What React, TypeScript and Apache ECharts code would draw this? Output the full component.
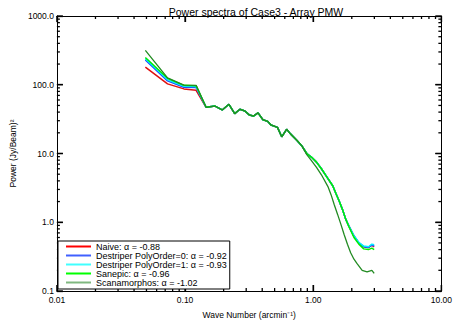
import React, { useEffect, useRef } from "react";
import * as echarts from "echarts";

const waveNumber = [
  0.049, 0.073, 0.098, 0.122, 0.146, 0.171, 0.195, 0.22, 0.244, 0.268,
  0.293, 0.317, 0.342, 0.371, 0.405, 0.442, 0.468, 0.526, 0.568, 0.62,
  0.665, 0.747, 0.816, 0.891, 0.972, 1.061, 1.159, 1.265, 1.42, 1.507,
  1.6, 1.69, 1.797, 1.9, 2.08, 2.27, 2.48, 2.7, 2.87, 2.99,
];
const naive = [
  181, 103, 87, 83, 47, 49, 43, 52, 38, 44,
  41.6, 36.4, 35, 39, 31, 29.3, 26, 24, 17.5, 22.5,
  19.3, 15.5, 12.9, 10, 8.8, 7.5, 6.0, 4.7, 3.4, 2.6,
  2.0, 1.54, 1.1, 0.88, 0.63, 0.5, 0.44, 0.43, 0.46, 0.44,
];
const destriper0 = [
  230, 114, 92, 91, 47, 49, 43, 52, 38, 44,
  41.6, 36.4, 35, 39, 31, 29.3, 26, 24, 17.5, 22.5,
  19.3, 15.5, 12.9, 10, 8.8, 7.5, 6.0, 4.7, 3.4, 2.6,
  2.0, 1.54, 1.1, 0.88, 0.63, 0.5, 0.44, 0.43, 0.47, 0.45,
];
const destriper1 = [
  240, 118, 95, 94, 47, 49, 43, 52, 38, 44,
  41.6, 36.4, 35, 39, 31, 29.3, 26, 24, 17.5, 22.5,
  19.3, 15.5, 12.9, 10, 8.8, 7.5, 6.0, 4.7, 3.4, 2.6,
  2.0, 1.54, 1.1, 0.88, 0.64, 0.51, 0.45, 0.44, 0.48, 0.47,
];
const sanepic = [
  249, 124, 98, 97, 47, 49, 43, 52, 38, 44,
  41.6, 36.4, 35, 39, 31, 29.3, 26, 24, 17.5, 22.5,
  19.3, 15.5, 12.9, 10, 8.8, 7.5, 6.0, 4.7, 3.4, 2.6,
  2.0, 1.54, 1.1, 0.86, 0.6, 0.48, 0.41, 0.4, 0.42, 0.4,
];
const scanWave = [
  0.049, 0.073, 0.098, 0.122, 0.146, 0.171, 0.195, 0.22, 0.244, 0.268,
  0.293, 0.317, 0.342, 0.371, 0.405, 0.442, 0.468, 0.526, 0.568, 0.62,
  0.665, 0.747, 0.816, 0.891, 0.972, 1.061, 1.159, 1.303, 1.38, 1.46,
  1.55, 1.645, 1.74, 1.85, 1.96, 2.08, 2.2, 2.41, 2.63, 2.87, 2.99,
];
const scanamorphos = [
  316, 126, 99, 98, 47, 49, 43, 52, 38, 44,
  41.6, 36.4, 35, 39, 31, 29.3, 26, 24, 17.5, 22.5,
  19.3, 15.5, 12.9, 9.6, 7.8, 6.3, 4.9, 3.3, 2.5, 1.8,
  1.3, 0.93, 0.67, 0.48, 0.36, 0.29, 0.25, 0.2, 0.19, 0.2, 0.18,
];

const seriesNames = [
  "Naive: \u03b1 = -0.88",
  "Destriper PolyOrder=0: \u03b1 = -0.92",
  "Destriper PolyOrder=1: \u03b1 = -0.93",
  "Sanepic: \u03b1 = -0.96",
  "Scanamorphos: \u03b1 = -1.02",
];
const seriesColors = ["#e01010", "#2040ff", "#00f0ff", "#00ee00", "#228b22"];
const legendColors = ["#ff0000", "#4060ff", "#40ffff", "#00ff00", "#80b880"];

const xTickLabels: Record<string, string> = { "0.01": "0.01", "0.1": "0.10", "1": "1.00", "10": "10.00" };
const yTickLabels: Record<string, string> = { "0.1": "0.1", "1": "1.0", "10": "10.0", "100": "100.0", "1000": "1000.0" };
const xMajor = [0.01, 0.1, 1, 10];
const yMajor = [0.1, 1, 10, 100, 1000];
const minorMultipliers = [2, 3, 4, 5, 6, 7, 8, 9];
const xDecades = [0.01, 0.1, 1];
const yDecades = [0.1, 1, 10, 100];
const X_MIN = 0.01;
const X_MAX = 10;
const Y_MIN = 0.1;
const Y_MAX = 1000;

const FONT = "Liberation Sans";

function pairs(xs: number[], ys: number[]) {
  return xs.map((x, i) => [x, ys[i]]);
}

function xTickSeries(values: number[], len: number) {
  return {
    type: "custom",
    clip: false,
    z: 10,
    data: values.map((v) => [v, 1]),
    renderItem: (_p: any, api: any) => {
      const v = api.value(0);
      const b = api.coord([v, Y_MIN]);
      const t = api.coord([v, Y_MAX]);
      return {
        type: "group",
        children: [
          { type: "line", shape: { x1: b[0], y1: b[1], x2: b[0], y2: b[1] - len }, style: { stroke: "#000", lineWidth: 1.3 } },
          { type: "line", shape: { x1: t[0], y1: t[1], x2: t[0], y2: t[1] + len }, style: { stroke: "#000", lineWidth: 1.3 } },
        ],
      };
    },
  };
}

function yTickSeries(values: number[], len: number) {
  return {
    type: "custom",
    clip: false,
    z: 10,
    data: values.map((v) => [1, v]),
    renderItem: (_p: any, api: any) => {
      const v = api.value(1);
      const l = api.coord([X_MIN, v]);
      const r = api.coord([X_MAX, v]);
      return {
        type: "group",
        children: [
          { type: "line", shape: { x1: l[0], y1: l[1], x2: l[0] + len, y2: l[1] }, style: { stroke: "#000", lineWidth: 1.3 } },
          { type: "line", shape: { x1: r[0], y1: r[1], x2: r[0] - len, y2: r[1] }, style: { stroke: "#000", lineWidth: 1.3 } },
        ],
      };
    },
  };
}

export default function App() {
  const ref = useRef<HTMLDivElement>(null);
  useEffect(() => {
    const chart = echarts.init(ref.current!, null, { renderer: "svg" });
    const ys = [naive, destriper0, destriper1, sanepic];
    const series: any[] = ys.map((d, i) => ({
      name: seriesNames[i],
      type: "line",
      data: pairs(waveNumber, d),
      showSymbol: false,
      symbol: "none",
      color: seriesColors[i],
      lineStyle: { width: 1.5, color: seriesColors[i] },
      z: 2 + i,
    }));
    series.push({
      name: seriesNames[4],
      type: "line",
      data: pairs(scanWave, scanamorphos),
      showSymbol: false,
      symbol: "none",
      color: seriesColors[4],
      lineStyle: { width: 1.3, color: seriesColors[4] },
      z: 7,
    });
    const xMinor: number[] = [];
    xDecades.forEach((d) => minorMultipliers.forEach((m) => xMinor.push(+(m * d).toPrecision(3))));
    const yMinor: number[] = [];
    yDecades.forEach((d) => minorMultipliers.forEach((m) => yMinor.push(+(m * d).toPrecision(3))));
    series.push(xTickSeries(xMajor, 6), xTickSeries(xMinor, 3), yTickSeries(yMajor, 6), yTickSeries(yMinor, 3));

    const axisCommon = {
      type: "log" as const,
      axisLine: { show: true, lineStyle: { color: "#000", width: 1 } },
      axisTick: { show: true, inside: true, length: 6, lineStyle: { color: "#000", width: 1.3 } },
      splitLine: { show: false },
    };
    chart.setOption({
      animation: false,
      title: {
        text: "Power spectra of Case3 - Array PMW",
        left: 251,
        top: 1,
        textAlign: "center",
        textStyle: { fontFamily: FONT, fontSize: 10.5, fontWeight: "normal", color: "#000" },
      },
      grid: { left: 54, right: 7, top: 16, bottom: 28, containLabel: false },
      xAxis: [
        {
          ...axisCommon,
          min: X_MIN,
          max: X_MAX,
          position: "bottom",
          name: "Wave Number (arcmin\u207b\u00b9)",
          nameLocation: "middle",
          nameGap: 19,
          nameTextStyle: { fontFamily: FONT, fontSize: 8.5, color: "#000" },
          axisLabel: {
            fontFamily: FONT,
            fontSize: 8.5,
            color: "#000",
            margin: 4,
            formatter: (v: number) => xTickLabels[String(+v.toPrecision(3))] ?? "",
          },
        },
        { ...axisCommon, min: X_MIN, max: X_MAX, position: "top", axisLabel: { show: false } },
      ],
      yAxis: [
        {
          ...axisCommon,
          min: Y_MIN,
          max: Y_MAX,
          position: "left",
          name: "Power (Jy/Beam)\u00b2",
          nameLocation: "middle",
          nameGap: 38,
          nameRotate: 90,
          nameTextStyle: { fontFamily: FONT, fontSize: 8.5, color: "#000" },
          axisLabel: {
            fontFamily: FONT,
            fontSize: 8.5,
            color: "#000",
            margin: 3,
            formatter: (v: number) => yTickLabels[String(+v.toPrecision(3))] ?? "",
          },
        },
        { ...axisCommon, min: Y_MIN, max: Y_MAX, position: "right", axisLabel: { show: false } },
      ],
      legend: {
        show: true,
        orient: "vertical",
        left: 58,
        top: 241,
        padding: [1, 3, 2, 8],
        itemGap: 0,
        itemWidth: 25,
        itemHeight: 2,
        icon: "rect",
        backgroundColor: "#fff",
        borderColor: "#000",
        borderWidth: 1,
        borderRadius: 0,
        textStyle: { fontFamily: FONT, fontSize: 9, color: "#000", lineHeight: 9 },
        data: seriesNames.map((n, i) => ({ name: n, itemStyle: { color: legendColors[i] } })),
        z: 20,
      },
      series,
    });
    return () => chart.dispose();
  }, []);
  return (
    <div
      ref={ref}
      style={{ position: "fixed", left: 0, top: 0, width: 455, height: 324, background: "#fff" }}
    />
  );
}
